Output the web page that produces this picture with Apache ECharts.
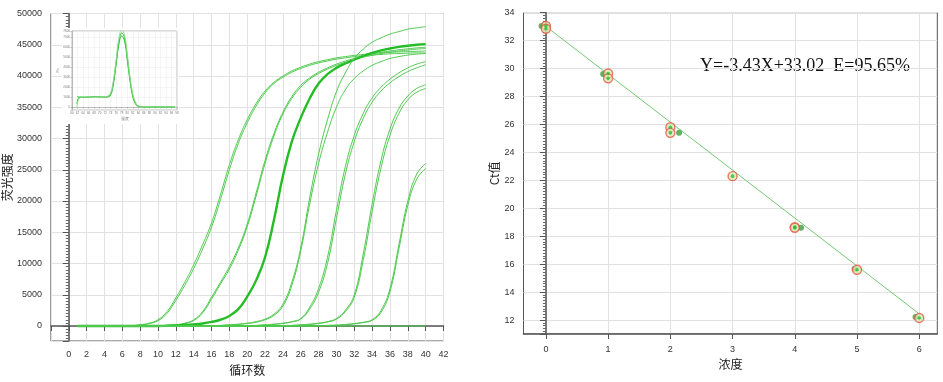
<!DOCTYPE html>
<html><head><meta charset="utf-8">
<script src="https://cdn.jsdelivr.net/npm/echarts@6/dist/echarts.min.js"></script>
<style>html,body{margin:0;padding:0;background:#fff}#c{width:943px;height:382px}</style>
</head><body><div id="c"></div>
<script>
// ---------- amplification plot (left) ----------
const cycles = [1,2,3,4,5,6,7,8,9,10,11,12,13,14,15,16,17,18,19,20,21,22,23,24,25,26,27,28,29,30,31,32,33,34,35,36,37,38,39,40];
const fam1a = [0,0,0,0,0,0,50,200,450,1000,2300,4500,7000,9800,13000,16500,21000,25800,29800,33000,35600,37600,39000,40000,40800,41400,41900,42300,42600,42900,43100,43300,43450,43600,43700,43800,43850,43900,43950,44000];
const fam1b = [0,0,0,0,0,0,40,150,380,850,2000,4100,6500,9200,12300,15800,20200,25000,29200,32500,35200,37300,38800,39800,40600,41200,41700,42100,42400,42700,42900,43100,43250,43350,43450,43550,43600,43650,43700,43700];
const fam2a = [0,0,0,0,0,0,0,0,0,50,100,200,450,1000,2300,4600,7000,9500,12500,16300,21300,26500,30800,34200,36700,38500,39700,40600,41300,41900,42400,42800,43200,43500,43800,44000,44200,44350,44500,44600];
const fam2b = [0,0,0,0,0,0,0,0,0,40,80,150,380,880,2100,4300,6700,9100,12100,15900,20800,26000,30400,33900,36400,38200,39500,40400,41100,41700,42200,42600,43000,43300,43600,43800,44000,44150,44300,44400];
const thick = [0,0,0,0,0,0,0,0,0,0,50,100,150,250,400,650,1000,1600,2700,4700,7300,11000,17000,24000,29500,33300,36400,38800,40300,41300,42000,42600,43200,43700,44100,44400,44650,44850,45000,45100];
const fam4a = [0,0,0,0,0,0,0,0,0,0,0,0,0,0,0,50,100,200,300,450,700,1100,1900,3500,7000,12500,20500,27500,33000,37500,40500,42800,44300,45400,46100,46700,47100,47500,47700,47900];
const fam4b = [0,0,0,0,0,0,0,0,0,0,0,0,0,0,0,40,80,150,250,400,600,1000,1700,3200,6500,12000,19500,26000,31000,35000,37800,39600,40800,41700,42300,42800,43100,43350,43500,43600];
const fam5a = [0,0,0,0,0,0,0,0,0,0,0,0,0,0,0,0,0,0,0,50,100,200,300,450,700,1200,3000,6000,11000,18500,25500,30500,34000,36500,38200,39500,40500,41300,41900,42300];
const fam5b = [0,0,0,0,0,0,0,0,0,0,0,0,0,0,0,0,0,0,0,40,80,150,250,400,650,1100,2700,5400,10000,17200,24300,29500,33200,35800,37600,38900,39900,40700,41300,41800];
const fam6a = [0,0,0,0,0,0,0,0,0,0,0,0,0,0,0,0,0,0,0,0,0,0,0,50,100,200,300,450,700,1200,2500,5000,11500,19500,26500,31500,34800,36800,38000,38600];
const fam6b = [0,0,0,0,0,0,0,0,0,0,0,0,0,0,0,0,0,0,0,0,0,0,0,40,80,150,250,400,650,1100,2300,4600,10500,18300,25300,30500,34000,36200,37400,38000];
const fam7a = [0,0,0,0,0,0,0,0,0,0,0,0,0,0,0,0,0,0,0,0,0,0,0,0,0,0,0,50,100,150,250,400,600,1000,2500,6000,13000,20000,24300,26000];
const fam7b = [0,0,0,0,0,0,0,0,0,0,0,0,0,0,0,0,0,0,0,0,0,0,0,0,0,0,0,40,80,120,200,350,550,900,2200,5500,12300,19300,23500,25200];
const flat  = [0,0,0,0,0,0,0,0,0,0,0,0,0,0,0,0,0,0,0,0,0,0,0,0,0,0,0,0,0,0,0,0,0,0,0,0,0,0,0,0];
const ampYLabels = [0,5000,10000,15000,20000,25000,30000,35000,40000,45000,50000];

// ---------- inset melt curve ----------
const meltT  = [61.8,62.3,63,64,66,68,70,72,73,74,75,76,77,78,79,80,81,82,83,84,86,90,97.3];
const meltA  = [300,900,1000,950,1000,1050,1000,1000,1050,1300,2500,4500,6500,7400,6900,5000,2800,1200,400,100,0,0,0];
const meltB  = [1100,1000,980,1000,980,1000,1020,1000,1000,1200,2300,4300,6300,7100,6600,4700,2600,1000,300,60,0,0,0];
const meltC  = [0,700,950,1000,1000,1000,1000,1050,1100,1400,2700,4800,6900,7700,7200,5300,3000,1300,450,120,0,0,0];
const meltThreshold = 3000;

// ---------- standard curve (right) ----------
const ringX = [0,0,1,1,2,2,3,4,4,5,6];
const ringY = [33.05,32.85,29.65,29.3,25.8,25.4,22.3,18.65,18.6,15.6,12.15];
const darkX = [-0.07,0.92,2.14,4.1,4.96,5.94];
const darkY = [33.05,29.62,25.4,18.6,15.65,12.22];
const slope = -3.43, intercept = 33.02;
const fitRange = [0,6];
const equationText = 'Y=-3.43X+33.02  E=95.65%';

const pairs = (xs, ys) => xs.map((x, i) => [x, ys[i]]);
const lbl = {color:'#333', fontSize:9, fontFamily:'Liberation Sans'};
const nameStyle = {color:'#222', fontSize:12, fontFamily:'Noto Sans CJK SC'};
const GL = '#e2e2e2';

const ampCurves = [
  ['fam1a', fam1a, 1], ['fam1b', fam1b, 1], ['fam2a', fam2a, 1], ['fam2b', fam2b, 1],
  ['thick', thick, 2.4], ['fam4a', fam4a, 1], ['fam4b', fam4b, 1],
  ['fam5a', fam5a, 1], ['fam5b', fam5b, 1], ['fam6a', fam6a, 1], ['fam6b', fam6b, 1],
  ['fam7a', fam7a, 1], ['fam7b', fam7b, 1], ['flat', flat, 1.2]
];

const series = ampCurves.map(([n, arr, w]) => ({
  name: n, type: 'line', xAxisIndex: 0, yAxisIndex: 0, data: pairs(cycles, arr),
  showSymbol: false, smooth: 0.45,
  lineStyle: {color: w > 2 ? '#25bd25' : '#4fca4f', width: w}, silent: true
}));

[meltA, meltB, meltC].forEach((arr, i) => series.push({
  type: 'line', xAxisIndex: 1, yAxisIndex: 1, zlevel: 1, z: 5, data: pairs(meltT, arr),
  showSymbol: false, smooth: 0.45, lineStyle: {color: i === 2 ? '#8edb8e' : '#35c235', width: 1}, silent: true,
  markLine: i === 0 ? {symbol: 'none', silent: true, lineStyle: {color: '#9a9a9a', width: 0.8, type: 'solid'},
    label: {show: true, position: 'insideStartTop', formatter: 'Threshold', fontSize: 2.5, color: '#444', backgroundColor: '#cfcfcf', padding: [1, 1], distance: 1},
    data: [{yAxis: meltThreshold}]} : undefined
}));

series.push({
  type: 'line', xAxisIndex: 2, yAxisIndex: 2, showSymbol: false, silent: true,
  data: fitRange.map(x => [x, slope * x + intercept]),
  lineStyle: {color: '#74c874', width: 1}
});
series.push({
  type: 'scatter', xAxisIndex: 2, yAxisIndex: 2, data: pairs(darkX, darkY), symbolSize: 6,
  itemStyle: {color: '#3e9b3e'}, silent: true, z: 3
});
series.push({
  type: 'scatter', xAxisIndex: 2, yAxisIndex: 2, data: pairs(ringX, ringY), symbolSize: 9,
  itemStyle: {color: '#d8e9b8', borderColor: '#e4583f', borderWidth: 1.4}, silent: true, z: 4
});
series.push({
  type: 'scatter', xAxisIndex: 2, yAxisIndex: 2, data: pairs(ringX, ringY), symbolSize: 3.6,
  itemStyle: {color: '#2fb52f'}, silent: true, z: 5
});

const option = {
  animation: false,
  backgroundColor: '#fff',
  grid: [
    {left: 47, top: 13.5, width: 396.5, height: 327.5, show: true, borderColor: '#555', borderWidth: 1},
    {left: 72, top: 31, width: 105, height: 79, show: true, borderColor: '#aaa', borderWidth: 0.8, backgroundColor: '#fff', zlevel: 1, z: 2},
    {left: 523.5, top: 12.7, width: 413.8, height: 321.3, show: true, borderColor: '#555', borderWidth: 1}
  ],
  xAxis: [
    {type: 'value', gridIndex: 0, min: -2, max: 42, interval: 2,
     axisLine: {lineStyle: {color: '#555', width: 1.5}}, axisTick: {length: 5, lineStyle: {color: '#555'}},
     axisLabel: Object.assign({margin: 9.5, formatter: v => v < 0 ? '' : String(v)}, lbl),
     splitLine: {lineStyle: {color: GL}},
     name: '循环数', nameLocation: 'middle', nameGap: 19, nameTextStyle: nameStyle},
    {type: 'value', gridIndex: 1, min: 60, max: 98, interval: 2, zlevel: 1, z: 4,
     axisLine: {lineStyle: {color: '#999', width: 0.6}}, axisTick: {length: 1.5, lineStyle: {color: '#999', width: 0.5}},
     axisLabel: {fontSize: 3, color: '#777', margin: 2},
     splitLine: {lineStyle: {color: '#eeeeee', width: 0.6}},
     name: '温度', nameLocation: 'middle', nameGap: 7, nameTextStyle: {fontSize: 3.5, color: '#777'}},
    {type: 'value', gridIndex: 2, min: -0.36, max: 6.29,
     axisLine: {lineStyle: {color: '#555', width: 1.5}}, axisTick: {length: 5, lineStyle: {color: '#555'}, customValues: [0,1,2,3,4,5,6]},
     axisLabel: Object.assign({margin: 11, customValues: [0,1,2,3,4,5,6], formatter: v => Number.isInteger(v) ? String(v) : ''}, lbl),
     splitLine: {lineStyle: {color: GL}},
     name: '浓度', nameLocation: 'middle', nameGap: 22, nameTextStyle: nameStyle}
  ],
  yAxis: [
    {type: 'value', gridIndex: 0, min: -2400, max: 50000, splitNumber: 10,
     axisLine: {show: true, lineStyle: {color: '#555', width: 1.5}}, axisTick: {show: true, length: 6, lineStyle: {color: '#555'}},
     minorTick: {show: true, splitNumber: 10, length: 3, lineStyle: {color: '#666'}},
     axisLabel: Object.assign({margin: 9, formatter: v => ampYLabels.includes(v) ? String(v) : ''}, lbl),
     splitLine: {lineStyle: {color: GL}},
     name: '荧光强度', nameLocation: 'middle', nameGap: 33, nameTextStyle: nameStyle},
    {type: 'value', gridIndex: 1, min: -300, max: 7600, splitNumber: 8, zlevel: 1, z: 4,
     axisLine: {show: true, lineStyle: {color: '#999', width: 0.6}}, axisTick: {show: true, length: 1.5, lineStyle: {color: '#999', width: 0.5}},
     axisLabel: {fontSize: 3, color: '#777', margin: 2, formatter: v => v >= 0 ? String(v) : ''},
     splitLine: {lineStyle: {color: '#eeeeee', width: 0.6}},
     name: 'Rn', nameLocation: 'middle', nameGap: 9, nameTextStyle: {fontSize: 3, color: '#777'}},
    {type: 'value', gridIndex: 2, min: 11, max: 34, splitNumber: 12,
     axisLine: {show: true, lineStyle: {color: '#555', width: 1.5}}, axisTick: {show: true, length: 6, lineStyle: {color: '#555'}},
     minorTick: {show: true, splitNumber: 10, length: 3, lineStyle: {color: '#666'}},
     axisLabel: Object.assign({margin: 9, formatter: v => (v % 2 === 0) ? String(v) : ''}, lbl),
     splitLine: {lineStyle: {color: GL}},
     name: 'Ct值', nameLocation: 'middle', nameGap: 18, nameTextStyle: nameStyle}
  ],
  graphic: [
    {type: 'rect', zlevel: 1, z: 0, silent: true, shape: {x: 62, y: 28, width: 117, height: 96}, style: {fill: '#fff'}},
    {type: 'text', left: 700, top: 57, silent: true,
     style: {text: equationText, font: '18px "Liberation Serif"', fill: '#111'}}
  ],
  series: series
};
echarts.init(document.getElementById('c'), null, {renderer: 'canvas'}).setOption(option);
</script></body></html>
